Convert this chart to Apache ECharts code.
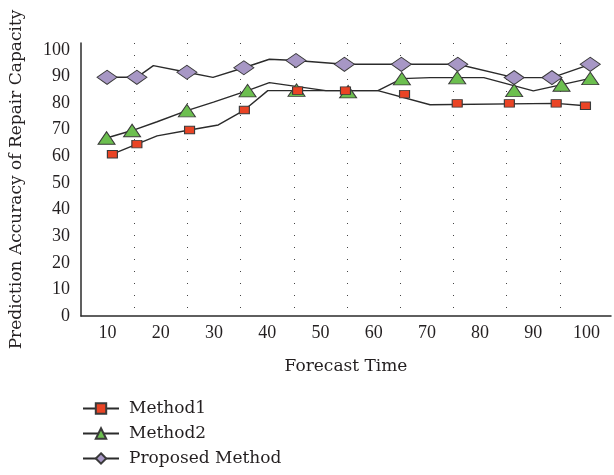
<!DOCTYPE html>
<html>
<head>
<meta charset="utf-8">
<script src="https://cdn.jsdelivr.net/npm/echarts@6/dist/echarts.min.js"></script>
<style>
html,body{margin:0;padding:0;background:#fff;}
#chart{width:614px;height:475px;}
</style>
</head>
<body>
<div id="chart"></div>
<script>
// ---- data ----
const seriesNames = ['Method1', 'Method2', 'Proposed Method'];
const xTickLabels = [10, 20, 30, 40, 50, 60, 70, 80, 90, 100];
const yTickLabels = [0, 10, 20, 30, 40, 50, 60, 70, 80, 90, 100];

// polyline vertices [forecast time, accuracy]
const method1Line = [[10.9,60.8],[15.5,64.6],[19.3,67.7],[25.4,69.9],[30.8,71.8],[35.7,77.4],[40.1,84.7],[60.8,84.7],[70.6,79.4],[94.3,79.9],[99.8,79.0]];
const method2Line = [[9.8,66.9],[14.6,69.7],[19.3,73.0],[24.9,77.2],[29.9,80.4],[36.3,84.7],[40.4,87.7],[51.0,84.7],[60.8,84.7],[65.3,89.2],[70.6,89.6],[80.7,89.6],[90.0,84.6],[100.7,89.3]];
const proposedLine = [[9.9,89.7],[15.5,89.7],[18.6,94.1],[24.9,91.6],[29.8,89.7],[35.6,93.3],[40.4,96.5],[45.4,96.0],[54.5,94.6],[75.8,94.6],[86.4,89.6],[93.5,89.6],[100.7,94.6]];

// marker positions [forecast time, accuracy]
const method1Markers = [[10.9,60.8],[15.5,64.6],[25.4,69.9],[35.7,77.4],[45.7,84.7],[54.7,84.7],[65.8,83.4],[75.7,79.9],[85.5,79.9],[94.3,79.9],[99.8,79.0]];
const method2Markers = [[9.8,66.9],[14.6,69.7],[24.9,77.2],[36.3,84.7],[45.5,84.9],[55.2,84.3],[65.3,89.2],[75.7,89.6],[86.4,84.8],[95.3,86.8],[100.7,89.3]];
const proposedMarkers = [[9.9,89.7],[15.5,89.7],[24.9,91.6],[35.6,93.3],[45.4,96.0],[54.5,94.6],[65.2,94.6],[75.8,94.6],[86.4,89.6],[93.5,89.6],[100.7,94.6]];

// ---- styling ----
const FONT = 'DejaVu Serif';
const NUMFONT = 'Liberation Serif';
const TXT = '#231f20';
const LINE = '#2b2b2b';
const BORDER = '#3a3a3a';
const styles = [
  {symbol: 'rect', size: [10, 7.5], color: '#ea4425'},
  {symbol: 'triangle', size: [17, 12.5], color: '#6cbf4f'},
  {symbol: 'diamond', size: [20, 14], color: '#a797c5'}
];
const lines = [method1Line, method2Line, proposedLine];
const markers = [method1Markers, method2Markers, proposedMarkers];

const series = [];
lines.forEach((d, i) => {
  series.push({
    name: seriesNames[i], type: 'line', data: d, xAxisIndex: 0,
    symbol: styles[i].symbol, showSymbol: false, symbolSize: styles[i].size,
    lineStyle: {color: LINE, width: 1.4},
    itemStyle: {color: styles[i].color, borderColor: BORDER, borderWidth: 1},
    z: 3, animation: false, silent: true
  });
});
// markers drawn on top; proposed first, Method1 last
[2, 1, 0].forEach((i, k) => {
  series.push({
    name: seriesNames[i] + ' markers', type: 'scatter', data: markers[i], xAxisIndex: 0,
    symbol: styles[i].symbol, symbolSize: styles[i].size,
    itemStyle: {color: styles[i].color, borderColor: BORDER, borderWidth: 1, opacity: 1},
    z: 5 + k, animation: false, silent: true
  });
});

const chart = echarts.init(document.getElementById('chart'), null, {renderer: 'canvas'});
chart.setOption({
  animation: false,
  backgroundColor: '#fff',
  grid: {left: 80, right: 0, top: 43, bottom: 159, containLabel: false},
  xAxis: [
    {
      type: 'value', min: 5, max: 104.6, interval: 5, position: 'bottom',
      name: 'Forecast Time', nameLocation: 'middle', nameGap: 42,
      nameTextStyle: {fontFamily: FONT, fontSize: 17, color: TXT},
      axisLine: {show: true, lineStyle: {color: LINE, width: 1.5}},
      axisTick: {show: false},
      splitLine: {show: false},
      axisLabel: {
        fontFamily: NUMFONT, fontSize: 18, color: TXT, margin: 8,
        showMinLabel: true, showMaxLabel: true,
        formatter: v => (xTickLabels.indexOf(Math.round(v)) >= 0 && Math.abs(v - Math.round(v)) < 1e-6 ? String(Math.round(v)) : '')
      }
    },
    {
      // offset helper axis for the dotted gridlines at 15, 25, ... 95
      type: 'value', min: 0, max: 99.6, interval: 10, position: 'bottom',
      axisLine: {show: false}, axisTick: {show: false}, axisLabel: {show: false},
      splitLine: {show: true, showMinLine: false, showMaxLine: false,
        lineStyle: {color: '#444', width: 1, type: [1, 11]}}
    }
  ],
  yAxis: {
    type: 'value', min: 0, max: 102.6, interval: 10,
    name: 'Prediction Accuracy of Repair Capacity', nameLocation: 'middle', nameGap: 56,
    nameTextStyle: {fontFamily: FONT, fontSize: 17, color: TXT},
    axisLine: {show: true, lineStyle: {color: LINE, width: 1.5}},
    axisTick: {show: false},
    splitLine: {show: false},
    axisLabel: {
      fontFamily: NUMFONT, fontSize: 18, color: TXT, margin: 11, showMaxLabel: false,
      formatter: v => (yTickLabels.indexOf(v) >= 0 ? String(v) : '')
    }
  },
  legend: {
    data: seriesNames, orient: 'vertical', left: 82, top: 400, padding: 0,
    height: 80,
    itemWidth: 36, itemHeight: 13, itemGap: 8,
    textStyle: {fontFamily: FONT, fontSize: 17, color: TXT, padding: [0, 0, 0, 5]},
    selectedMode: false
  },
  series: series
});
</script>
</body>
</html>
